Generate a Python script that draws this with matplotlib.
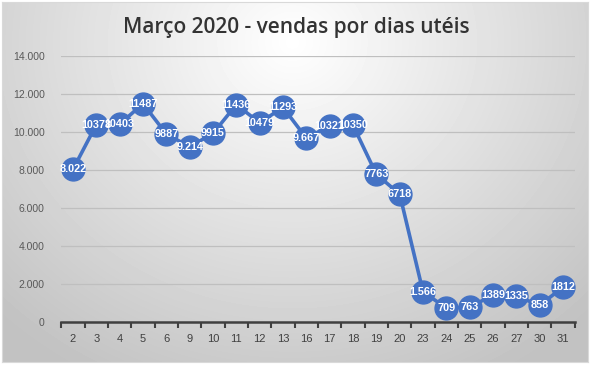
import matplotlib
matplotlib.use("Agg")
import matplotlib.pyplot as plt
import numpy as np

days = ["2", "3", "4", "5", "6", "9", "10", "11", "12", "13", "16",
        "17", "18", "19", "20", "23", "24", "25", "26", "27", "30", "31"]
sales = [8022, 10378, 10403, 11487, 9887, 9214, 9915, 11436, 10479, 11293,
         9667, 10321, 10350, 7763, 6718, 1566, 709, 763, 1389, 1335, 858, 1812]
labels = ["8.022", "10378", "10403", "11487", "9887", "9.214", "9915",
          "11436", "10479", "11293", "9.667", "10321", "10350", "7763",
          "6718", "1.566", "709", "763", "1389", "1335", "858", "1812"]
yticks = [0, 2000, 4000, 6000, 8000, 10000, 12000, 14000]
ytick_labels = ["0", "2.000", "4.000", "6.000", "8.000", "10.000",
                "12.000", "14.000"]

W, H = 592, 365
fig = plt.figure(figsize=(W / 100, H / 100), dpi=100)
fig.patch.set_facecolor("white")

# gradient background (light centre-top, grey at the edges)
bg = fig.add_axes([2 / W, 3 / H, 586 / W, 360 / H])
yy, xx = np.mgrid[0:360, 0:586]
d = np.sqrt(((xx - 290) / 420.0) ** 2 + ((yy - 40) / 380.0) ** 2)
d = np.clip(d, 0, 1)
grey = 1.0 - 0.24 * d
bg.imshow(grey, cmap="gray", vmin=0, vmax=1, aspect="auto",
          interpolation="bilinear")
bg.set_xticks([])
bg.set_yticks([])
for s in bg.spines.values():
    s.set_color("#d9d9d9")
    s.set_linewidth(0.8)

ax = fig.add_axes([61.3 / W, (H - 321.5) / H, (574.7 - 61.3) / W,
                   (321.5 - 56) / H])
ax.set_facecolor("none")
x = np.arange(len(days))
color = "#4472C4"

ax.plot(x, sales, color=color, lw=2.6, marker="o", markersize=16.5,
        markerfacecolor=color, markeredgecolor=color, zorder=3)
for xi, v, lab in zip(x, sales, labels):
    ax.text(xi, v, lab, ha="center", va="center", color="white",
            fontsize=7.8, fontweight="bold", zorder=4,
            family="Liberation Sans")

ax.set_xlim(-0.5, len(days) - 0.5)
ax.set_ylim(0, 14000)
ax.set_yticks(yticks)
ax.set_yticklabels(ytick_labels)
ax.yaxis.grid(True, color="#bfbfbf", lw=0.9)
ax.set_axisbelow(True)

ax.set_xticks(x)
ax.set_xticklabels(days)
ax.set_xticks(np.arange(-0.5, len(days)), minor=True)
ax.tick_params(axis="x", which="major", length=0, pad=9,
               labelsize=8, labelcolor="#404040")
ax.tick_params(axis="x", which="minor", length=4, width=1.5,
               color="#404040", direction="out")
ax.tick_params(axis="y", length=0, pad=12, labelsize=7.5,
               labelcolor="#595959")
for lab in ax.get_xticklabels() + ax.get_yticklabels():
    lab.set_family("Liberation Sans")

for side in ["top", "right", "left"]:
    ax.spines[side].set_visible(False)
ax.spines["bottom"].set_color("#404040")
ax.spines["bottom"].set_linewidth(1.8)

fig.text(296 / W, 1 - 28 / H, "Março 2020 - vendas por dias utéis",
         ha="center", va="center", fontsize=15, color="#333333",
         fontweight="semibold", family="Open Sans")

fig.savefig("out.png", dpi=100)
